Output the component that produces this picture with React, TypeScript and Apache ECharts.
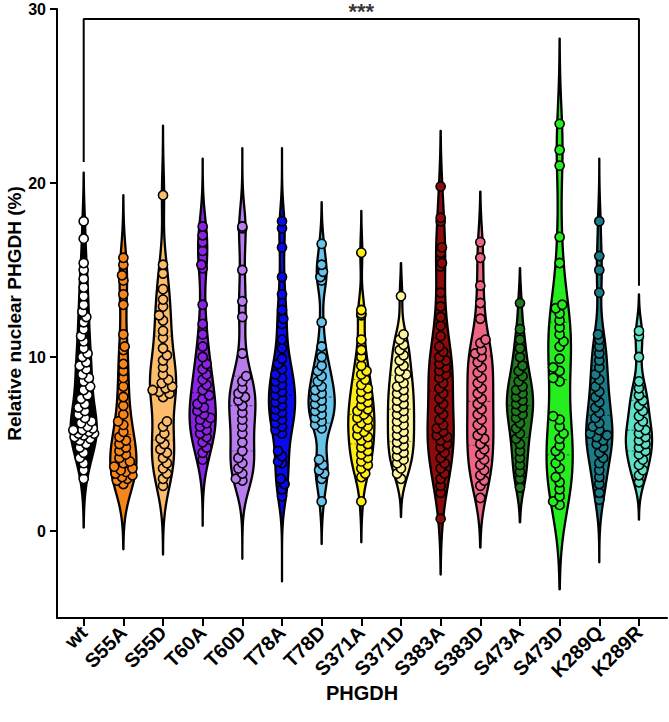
import React, { useEffect, useRef } from "react";
import * as echarts from "echarts";

const categories = ["wt", "S55A", "S55D", "T60A", "T60D", "T78A", "T78D", "S371A", "S371D", "S383A", "S383D", "S473A", "S473D", "K289Q", "K289R"];

const violinColors = ["#000000", "#F6861A", "#FBBC6C", "#8B22E6", "#B87CEF", "#0A0AEE", "#68C3EB", "#FFEE14", "#FFF59C", "#8E0B0B", "#EE6484", "#1F7A1F", "#26EE1E", "#1B7B86", "#5FDFC5"];
const pointColors = ["#FFFFFF", "#F6861A", "#FBBC6C", "#8B22E6", "#B87CEF", "#0A0AEE", "#68C3EB", "#FFEE14", "#FFF59C", "#8E0B0B", "#EE6484", "#1F7A1F", "#26EE1E", "#1B7B86", "#5FDFC5"];

const wt = [17.8, 16.8, 15.4, 15.0, 14.5, 14.0, 13.5, 13.0, 12.6, 12.3, 12.0, 11.6, 11.2, 10.9, 10.5, 10.2, 10.0, 9.7, 9.5, 9.3, 9.0, 8.8, 8.6, 8.3, 8.1, 7.8, 7.6, 7.3, 7.1, 6.9, 6.7, 6.5, 6.3, 6.2, 6.0, 5.9, 5.8, 5.8, 5.7, 5.6, 5.6, 5.5, 5.4, 5.3, 5.2, 5.0, 4.8, 4.5, 4.2, 3.9, 3.5, 3.0];
const s55a = [15.7, 15.3, 14.7, 14.4, 13.6, 13.0, 11.3, 10.6, 10.4, 9.6, 9.2, 8.8, 8.3, 7.7, 7.2, 6.7, 6.3, 6.1, 5.7, 5.4, 5.2, 5.0, 4.8, 4.6, 4.4, 4.2, 4.0, 3.9, 3.7, 3.6, 3.5, 3.4, 3.3, 3.2, 3.1, 3.0, 2.9, 2.7];
const s55d = [19.3, 15.3, 14.8, 13.9, 13.3, 12.9, 12.4, 12.1, 11.5, 11.1, 10.5, 10.1, 9.8, 9.4, 9.0, 8.7, 8.5, 8.3, 8.2, 8.1, 8.0, 7.9, 7.7, 6.3, 6.0, 5.6, 5.3, 5.0, 4.7, 4.5, 4.2, 3.9, 3.6, 3.3, 3.0, 2.6];
const t60a = [17.5, 17.0, 16.6, 16.1, 15.3, 15.1, 13.0, 11.9, 11.3, 10.6, 10.0, 9.6, 9.3, 9.0, 8.7, 8.4, 8.1, 7.8, 7.6, 7.3, 7.1, 6.9, 6.7, 6.5, 6.4, 6.2, 6.0, 5.8, 5.6, 5.4, 5.1, 4.8, 4.5, 4.1];
const t60d = [17.5, 17.4, 15.0, 13.2, 12.3, 10.2, 8.9, 8.6, 8.2, 7.9, 7.7, 7.5, 7.2, 6.8, 6.4, 6.0, 5.6, 5.1, 4.6, 4.2, 3.9, 3.6, 3.3, 3.0, 2.9];
const t78a = [17.8, 17.4, 16.3, 14.6, 13.6, 12.7, 12.2, 11.9, 11.0, 10.5, 9.9, 9.6, 9.3, 9.0, 8.8, 8.6, 8.4, 8.2, 8.0, 7.8, 7.6, 7.4, 7.2, 7.0, 6.8, 6.6, 6.4, 6.2, 6.0, 5.8, 5.6, 4.6, 4.3, 4.0, 3.9, 3.0, 2.7, 2.4, 2.0];
const t78d = [16.5, 15.3, 14.9, 14.6, 14.4, 12.0, 10.6, 10.0, 9.5, 9.2, 8.9, 8.6, 8.3, 8.1, 7.9, 7.7, 7.5, 7.3, 7.1, 6.9, 6.7, 6.5, 6.3, 6.1, 5.9, 4.1, 3.8, 3.5, 3.3, 3.0, 1.7];
const s371a = [16.0, 12.7, 12.5, 12.4, 11.0, 10.4, 10.0, 9.5, 9.2, 9.0, 8.7, 8.4, 8.2, 8.0, 7.8, 7.6, 7.4, 7.2, 7.0, 6.9, 6.7, 6.5, 6.4, 6.2, 6.0, 5.9, 5.7, 5.5, 5.4, 5.2, 5.0, 4.8, 4.6, 4.4, 4.2, 4.0, 3.8, 3.6, 3.3, 3.1, 1.7];
const s371d = [13.5, 11.3, 11.0, 10.7, 10.4, 10.1, 9.8, 9.5, 9.2, 9.0, 8.8, 8.5, 8.3, 8.1, 7.9, 7.7, 7.5, 7.3, 7.1, 6.9, 6.7, 6.5, 6.3, 6.1, 5.9, 5.7, 5.5, 5.3, 5.1, 4.9, 4.7, 4.5, 4.3, 4.1, 3.9, 3.6, 3.3, 3.0];
const s383a = [19.8, 18.0, 17.8, 16.3, 16.0, 15.4, 15.2, 13.7, 12.9, 12.3, 11.8, 11.2, 10.6, 10.3, 10.0, 9.8, 9.6, 9.4, 9.2, 9.0, 8.8, 8.5, 8.2, 7.9, 7.6, 7.3, 7.0, 6.7, 6.4, 6.1, 5.9, 5.7, 5.5, 5.4, 5.2, 5.0, 4.8, 4.5, 4.2, 3.9, 3.6, 3.3, 3.0, 2.6, 2.2, 0.7];
const s383d = [16.6, 15.7, 14.1, 13.1, 12.2, 11.0, 10.8, 10.4, 10.2, 10.0, 9.7, 9.4, 9.1, 8.8, 8.5, 8.2, 7.9, 7.6, 7.3, 7.0, 6.7, 6.4, 6.1, 5.8, 5.5, 5.3, 5.0, 4.7, 4.4, 4.1, 3.8, 3.5, 3.2, 2.9, 2.6, 1.9];
const s473a = [13.1, 11.6, 11.0, 10.5, 10.0, 9.5, 9.2, 8.9, 8.6, 8.3, 8.1, 7.9, 7.7, 7.5, 7.3, 7.1, 6.9, 6.7, 6.5, 6.2, 5.9, 5.6, 5.3, 5.0, 4.6, 4.2, 3.8, 3.4, 3.0, 2.5];
const s473d = [23.4, 21.9, 21.0, 16.9, 15.4, 13.0, 12.8, 12.5, 12.1, 11.7, 11.3, 10.9, 10.6, 9.9, 9.4, 9.2, 8.8, 8.6, 6.6, 6.4, 6.0, 5.6, 5.3, 4.9, 4.6, 4.3, 3.9, 3.6, 3.1, 2.8, 2.4, 2.0, 1.7, 1.5];
const k289q = [17.8, 15.8, 15.0, 13.7, 11.3, 11.0, 10.6, 10.2, 9.8, 9.4, 9.0, 8.7, 8.3, 8.0, 7.7, 7.4, 7.1, 6.8, 6.5, 6.2, 6.0, 5.8, 5.6, 5.5, 5.4, 5.2, 5.0, 4.8, 4.5, 4.2, 3.9, 3.5, 3.1, 2.7, 2.2, 1.8];
const k289r = [11.5, 11.2, 10.0, 8.6, 8.2, 7.8, 7.5, 7.2, 6.9, 6.6, 6.3, 6.0, 5.8, 5.6, 5.4, 5.2, 5.0, 4.8, 4.6, 4.4, 4.1, 3.8, 3.5, 3.2, 2.8];

const groupValues = [wt, s55a, s55d, t60a, t60d, t78a, t78d, s371a, s371d, s383a, s383d, s473a, s473d, k289q, k289r];

// extent of each violin's tails
const tailMin = [0.2, -1.05, -1.35, 0.3, -1.6, -2.9, -0.75, -0.65, 0.8, -2.5, -0.95, 0.5, -3.35, -1.8, 0.65];
const tailMax = [20.6, 19.3, 23.3, 21.4, 22.0, 22.0, 18.9, 18.4, 15.4, 23.0, 19.5, 15.1, 28.3, 21.4, 13.6];

const yTicks = [0, 10, 20, 30];
const bracketX = [0, 0, 14, 14];
const bracketY = [21.2, 29.43, 29.43, 14.1];
const significance = "***";

const FONT = 'Arial, "Liberation Sans", Helvetica, sans-serif';

function quantile(sorted: number[], q: number) {
  const pos = (sorted.length - 1) * q;
  const lo = Math.floor(pos);
  const hi = Math.ceil(pos);
  return sorted[lo] + (sorted[hi] - sorted[lo]) * (pos - lo);
}

function makeKde(vals: number[]) {
  const n = vals.length;
  const mean = vals.reduce((a, b) => a + b, 0) / n;
  const sd = Math.sqrt(vals.reduce((a, b) => a + (b - mean) * (b - mean), 0) / (n - 1));
  const s = [...vals].sort((a, b) => a - b);
  const iqr = quantile(s, 0.75) - quantile(s, 0.25);
  const h = 0.9 * Math.min(sd, iqr / 1.34) * Math.pow(n, -0.2) * 0.8;
  return (v: number) => {
    let sum = 0;
    for (const x of vals) {
      const u = (v - x) / h;
      sum += Math.exp(-0.5 * u * u);
    }
    return sum / (n * h * Math.sqrt(2 * Math.PI));
  };
}

function renderViolin(params: any, api: any) {
  const i = params.dataIndex;
  const vals = groupValues[i];
  const kde = makeKde(vals);
  const lo = tailMin[i];
  const hi = tailMax[i];
  const M = 260;
  const vs: number[] = [];
  const ds: number[] = [];
  let dmax = 0;
  for (let k = 0; k <= M; k++) {
    const v = lo + ((hi - lo) * k) / M;
    const d = kde(v);
    vs.push(v);
    ds.push(d);
    if (d > dmax) dmax = d;
  }
  const band = api.size([1, 0])[0];
  const maxHalf = band * 0.33;
  const cx = api.coord([i, 0])[0];
  const right: number[][] = [];
  const left: number[][] = [];
  for (let k = 0; k <= M; k++) {
    const y = api.coord([i, vs[k]])[1];
    const w = (ds[k] / dmax) * maxHalf;
    right.push([cx + w, y]);
    left.push([cx - w, y]);
  }
  const poly = right.concat(left.reverse());
  const halfAt = (v: number) => (kde(v) / dmax) * maxHalf;

  const children: any[] = [
    {
      type: "polygon",
      shape: { points: poly },
      style: { fill: violinColors[i], stroke: "#000", lineWidth: 2.3, lineJoin: "round" },
    },
  ];

  const sorted = [...vals].sort((a, b) => a - b);
  [0.25, 0.5, 0.75].forEach((q) => {
    const v = quantile(sorted, q);
    const w = halfAt(v);
    const y = api.coord([i, v])[1];
    children.push({
      type: "line",
      shape: { x1: cx - w, y1: y, x2: cx + w, y2: y },
      style: { stroke: "#000", lineWidth: q === 0.5 ? 1 : 0.7, lineDash: [3, 2], opacity: 0.6 },
    });
  });

  // beeswarm placement of the points inside the violin
  const r = 4.6;
  const minD = 6.3;
  const order = vals.map((_, k) => k).sort((a, b) => vals[a] - vals[b]);
  const placed: { x: number; y: number }[] = [];
  const pts: { x: number; y: number }[] = [];
  order.forEach((k, n) => {
    const y = api.coord([i, vals[k]])[1];
    const lim = Math.max(0, halfAt(vals[k]) - r * 0.5);
    let best = 0;
    let bestScore = -Infinity;
    let done = false;
    for (let step = 0; step <= 24 && !done; step++) {
      const sgn = n % 2 === 0 ? 1 : -1;
      const cands = step === 0 ? [0] : [sgn * step * 1.3, -sgn * step * 1.3];
      for (const dx of cands) {
        if (Math.abs(dx) > lim && step > 0) continue;
        let md = Infinity;
        for (const p of placed) {
          const d = Math.hypot(p.x - dx, p.y - y);
          if (d < md) md = d;
        }
        if (md >= minD) {
          best = dx;
          done = true;
          break;
        }
        if (md > bestScore) {
          bestScore = md;
          best = dx;
        }
      }
    }
    placed.push({ x: best, y });
    pts.push({ x: cx + best, y });
  });
  pts.forEach((p) => {
    children.push({
      type: "circle",
      shape: { cx: p.x, cy: p.y, r },
      style: { fill: pointColors[i], stroke: "#000", lineWidth: 1.6 },
    });
  });

  return { type: "group", children };
}

export default function App() {
  const ref = useRef<HTMLDivElement>(null);
  useEffect(() => {
    if (!ref.current) return;
    const chart = echarts.init(ref.current, undefined, { renderer: "svg" });
    const catIdx = categories.map((_, i) => i);
    chart.setOption({
      animation: false,
      backgroundColor: "#fff",
      grid: { left: 57, top: 9, width: 610, height: 609, containLabel: false, outerBoundsMode: "none" },
      xAxis: {
        type: "value",
        min: -0.673,
        max: 14.707,
        name: "PHGDH",
        nameLocation: "middle",
        nameGap: 65,
        nameMoveOverlap: false,
        nameTextStyle: { fontFamily: FONT, fontWeight: "bold", fontSize: 20, color: "#000" },
        axisLine: { show: true, onZero: false, lineStyle: { color: "#000", width: 2 } },
        axisTick: { show: true, customValues: catIdx, length: 8, lineStyle: { color: "#000", width: 2 } },
        axisLabel: {
          customValues: catIdx,
          rotate: 45,
          margin: 11,
          formatter: (v: number) => categories[Math.round(v)] ?? "",
          fontFamily: FONT,
          fontWeight: "bold",
          fontSize: 20,
          color: "#000",
        },
        splitLine: { show: false },
      },
      yAxis: {
        type: "value",
        min: -5,
        max: 30,
        name: "Relative nuclear PHGDH (%)",
        nameLocation: "middle",
        nameGap: 33,
        nameMoveOverlap: false,
        nameTextStyle: { fontFamily: FONT, fontWeight: "bold", fontSize: 19, color: "#000" },
        axisLine: { show: true, onZero: false, lineStyle: { color: "#000", width: 2 } },
        axisTick: { show: true, customValues: yTicks, length: 7, lineStyle: { color: "#000", width: 2 } },
        axisLabel: {
          customValues: yTicks,
          margin: 11,
          fontFamily: FONT,
          fontWeight: "bold",
          fontSize: 16,
          color: "#000",
        },
        splitLine: { show: false },
      },
      series: [
        {
          type: "custom",
          renderItem: renderViolin,
          data: categories.map((_, i) => [i, 0]),
          encode: { x: 0, y: 1 },
          clip: false,
        },
        {
          type: "line",
          data: bracketX.map((x, k) => [x, bracketY[k]]),
          symbol: "none",
          lineStyle: { color: "#000", width: 2 },
          silent: true,
        },
        {
          type: "scatter",
          data: [[(bracketX[0] + bracketX[3]) / 2, bracketY[1]]],
          symbolSize: 0,
          label: {
            show: true,
            formatter: significance,
            position: "inside",
            offset: [0, -7],
            fontFamily: FONT,
            fontWeight: "bold",
            fontSize: 22,
            color: "#000",
          },
          silent: true,
        },
      ],
    });
    return () => chart.dispose();
  }, []);
  return (
    <div
      ref={ref}
      style={{ position: "fixed", left: 0, top: 0, width: 669, height: 722, background: "#fff" }}
    />
  );
}
